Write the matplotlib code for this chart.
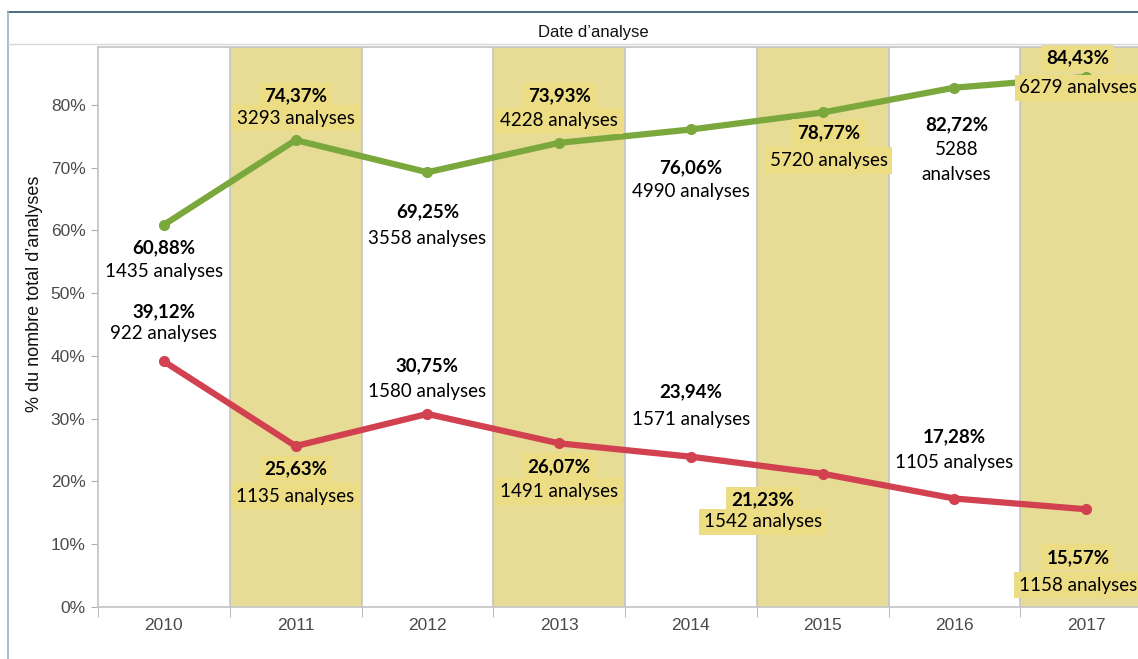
import matplotlib.pyplot as plt
from matplotlib.patches import Rectangle
from matplotlib.lines import Line2D

# Data
years = ["2010", "2011", "2012", "2013", "2014", "2015", "2016", "2017"]
pct_ok = [60.88, 74.37, 69.25, 73.93, 76.06, 78.77, 82.72, 84.43]
n_ok = [1435, 3293, 3558, 4228, 4990, 5720, 5288, 6279]
pct_ko = [39.12, 25.63, 30.75, 26.07, 23.94, 21.23, 17.28, 15.57]
n_ko = [922, 1135, 1580, 1491, 1571, 1542, 1105, 1158]

# label offsets in pixels (dx, dy of percent line, dy of count line)
off_ok = [(0, 23, 47), (0, -44, -22), (0, 40, 66), (0, -47, -22),
          (0, 38, 62), (6, 20, 48), (2, 37, 62), (-8, -19, 11)]
off_ko = [(0, -50, -28), (0, 23, 50), (0, -48, -22), (0, 23, 48),
          (0, -65, -37), (-60, 26, 48), (0, -62, -36), (-8, 48, 76)]

GREEN = "#7ba83c"
RED = "#d2414f"
BAND = "#e6dc96"
BOX = "#ecdc84"

fig = plt.figure(figsize=(11.38, 6.59), dpi=100)

# outer frame + header strip
fig.add_artist(Line2D([8 / 1138, 1], [1 - 12 / 659] * 2, color="#2e5566", lw=1.2))
fig.add_artist(Line2D([8 / 1138] * 2, [0, 1 - 12 / 659], color="#8fb4c8", lw=1.2))
fig.add_artist(Line2D([8 / 1138, 1], [1 - 44 / 659] * 2, color="#d8d8d8", lw=1))
fig.text(593 / 1138, 1 - 32 / 659, "Date d\u2019analyse", ha="center", va="center",
         fontsize=12, family="Liberation Sans", color="#111111")

ax = fig.add_axes([98 / 1138, 52 / 659, 1054 / 1138, 560 / 659])
ax.set_xlim(-0.5, len(years) - 0.5)
ax.set_ylim(0, 89.2)

for i in range(len(years)):
    if i % 2 == 1:
        ax.add_patch(Rectangle((i - 0.5, 0), 1, 89.2, color=BAND, zorder=0, lw=0))
    if i > 0:
        ax.axvline(i - 0.5, color="#c4c4c4", lw=1.2, zorder=0.5)

x = range(len(years))
ax.plot(x, pct_ok, color=GREEN, lw=4.5, marker="o", ms=7, zorder=3)
ax.plot(x, pct_ko, color=RED, lw=4.5, marker="o", ms=7, zorder=3)


def label(i, v, txt, off):
    dx, dy1, dy2 = off
    fc = BOX if i % 2 == 1 else "white"
    if i == 0:
        fc = "none"
    bb = dict(boxstyle="square,pad=0.25", fc=fc, ec="none")
    ax.annotate(f"{v:.2f}%".replace(".", ","), (i, v), xytext=(dx, -dy1),
                textcoords="offset pixels", ha="center", va="center",
                fontsize=13.5, fontweight="bold", family="Lato", bbox=bb, zorder=4)
    for k, line in enumerate(txt.split("\n")):
        ax.annotate(line, (i, v), xytext=(dx, -dy2 - 25 * k), textcoords="offset pixels",
                    ha="center", va="center", fontsize=13.5, family="Lato",
                    bbox=bb, zorder=4)


for i in x:
    t_ok = f"{n_ok[i]} analyses"
    if i == 6:
        t_ok = f"{n_ok[i]}\nanalvses"
    if i == 7:
        t_ok = f"{n_ok[i]} analvses"
    label(i, pct_ok[i], t_ok, off_ok[i])
    label(i, pct_ko[i], f"{n_ko[i]} analyses", off_ko[i])

ax.set_yticks(range(0, 90, 10))
ax.set_yticklabels([f"{t}%" for t in range(0, 90, 10)])
ax.set_xticks(list(x))
ax.set_xticklabels(years)
ax.set_xticks([i - 0.5 for i in range(len(years) + 1)], minor=True)
ax.tick_params(axis="x", which="major", length=0, pad=8, labelsize=12.5, labelcolor="#4a4a4a")
ax.tick_params(axis="x", which="minor", length=7, color="#b0b0b0", direction="out")
ax.tick_params(axis="y", length=5, color="#b0b0b0", labelsize=12.5, labelcolor="#4a4a4a", pad=4)
for t in ax.get_xticklabels() + ax.get_yticklabels():
    t.set_family("Liberation Sans")
for s in ["top", "left", "bottom"]:
    ax.spines[s].set_color("#c4c4c4")
    ax.spines[s].set_linewidth(1.2)
ax.spines["right"].set_visible(False)
ax.set_ylabel("% du nombre total d\u2019analyses", fontsize=13,
              family="Liberation Sans", color="#111111")
ax.yaxis.set_label_coords(-0.052, 0.56)

fig.savefig("out.png", dpi=100)
